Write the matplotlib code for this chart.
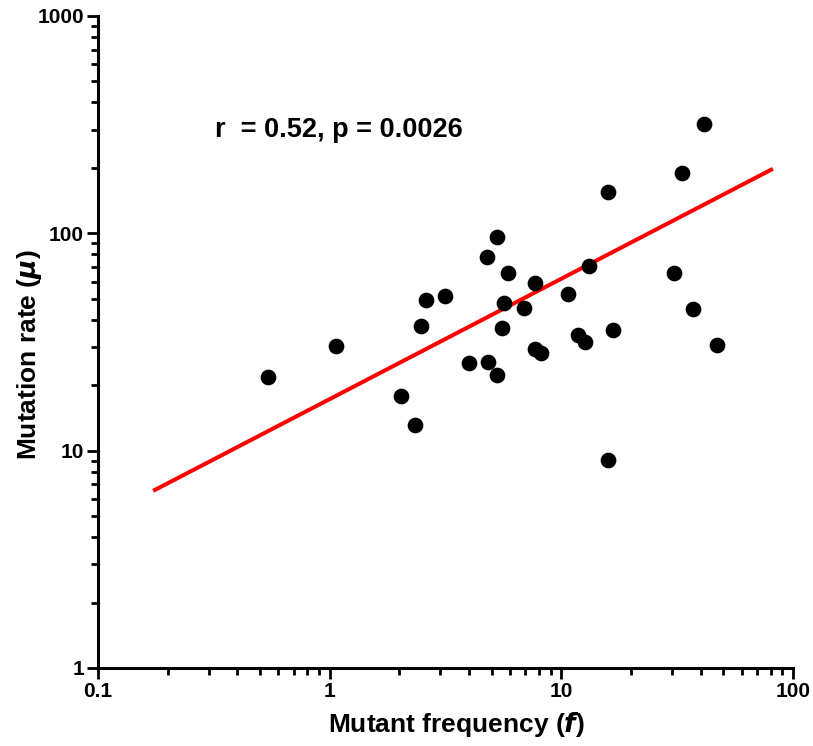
import numpy as np
import matplotlib
matplotlib.use("Agg")
import matplotlib.pyplot as plt
from matplotlib.ticker import LogLocator, NullFormatter, FixedFormatter, FixedLocator

# Mutant frequency (f) vs mutation rate (mu)
mutant_freq = [0.54, 1.07, 2.03, 2.34, 2.48, 2.6, 3.15, 3.99, 4.77, 4.82,
               5.27, 5.3, 5.54, 5.66, 5.88, 6.9, 7.69, 7.69, 8.17, 10.7,
               11.8, 12.6, 13.2, 15.9, 15.9, 16.7, 30.6, 33.2, 37.0, 41.2, 46.9]
mutation_rate = [21.8, 30.3, 17.9, 13.1, 37.5, 49.4, 51.5, 25.3, 77.9, 25.6,
                 96.3, 22.4, 36.7, 47.8, 65.7, 45.3, 59.1, 29.4, 28.1, 52.6,
                 34.1, 31.7, 70.8, 155, 9.06, 36.0, 65.7, 190, 44.9, 319, 30.7]

# regression line end points
fit_x = [0.173, 81.8]
fit_y = [6.53, 198]

x_ticks = [0.1, 1, 10, 100]
x_tick_labels = ["0.1", "1", "10", "100"]
y_ticks = [1, 10, 100, 1000]
y_tick_labels = ["1", "10", "100", "1000"]

plt.rcParams['font.family'] = ['Liberation Sans', 'DejaVu Sans']
plt.rcParams['font.weight'] = 'bold'

fig = plt.figure(figsize=(8.13, 7.46), dpi=100)
ax = fig.add_axes([0.1205, 0.1046, 0.855, 0.874])

ax.plot(fit_x, fit_y, color='#ff0000', lw=2.9, zorder=2, solid_capstyle='butt')
ax.plot(mutant_freq, mutation_rate, 'o', color='black', markersize=10.3, zorder=3)

ax.set_xscale('log')
ax.set_yscale('log')
ax.set_xlim(0.1, 100)
ax.set_ylim(1, 1000)

ax.xaxis.set_major_locator(FixedLocator(x_ticks))
ax.xaxis.set_major_formatter(FixedFormatter(x_tick_labels))
ax.yaxis.set_major_locator(FixedLocator(y_ticks))
ax.yaxis.set_major_formatter(FixedFormatter(y_tick_labels))
ax.xaxis.set_minor_locator(LogLocator(base=10, subs=np.arange(2, 10)))
ax.yaxis.set_minor_locator(LogLocator(base=10, subs=np.arange(2, 10)))
ax.xaxis.set_minor_formatter(NullFormatter())
ax.yaxis.set_minor_formatter(NullFormatter())

for side in ['top', 'right']:
    ax.spines[side].set_visible(False)
for side in ['left', 'bottom']:
    ax.spines[side].set_linewidth(2.2)
    ax.spines[side].set_color('black')

ax.tick_params(which='major', length=8, width=2, labelsize=15, pad=2)
ax.tick_params(which='minor', length=5, width=2)
for lab in ax.get_xticklabels() + ax.get_yticklabels():
    lab.set_fontweight('bold')

ax.set_xlabel('Mutant frequency ($\\mathit{f}$)', fontsize=19, fontweight='bold')
ax.set_ylabel('Mutation rate ($\\mathit{\\mu}$)', fontsize=19, fontweight='bold')
ax.yaxis.set_label_coords(-0.078, 0.48)
ax.xaxis.set_label_coords(0.515, -0.064)

ax.text(0.32, 300, 'r  = 0.52, p = 0.0026', fontsize=19.5, fontweight='bold',
        ha='left', va='center')

fig.savefig('out.png', dpi=100, facecolor='white')
